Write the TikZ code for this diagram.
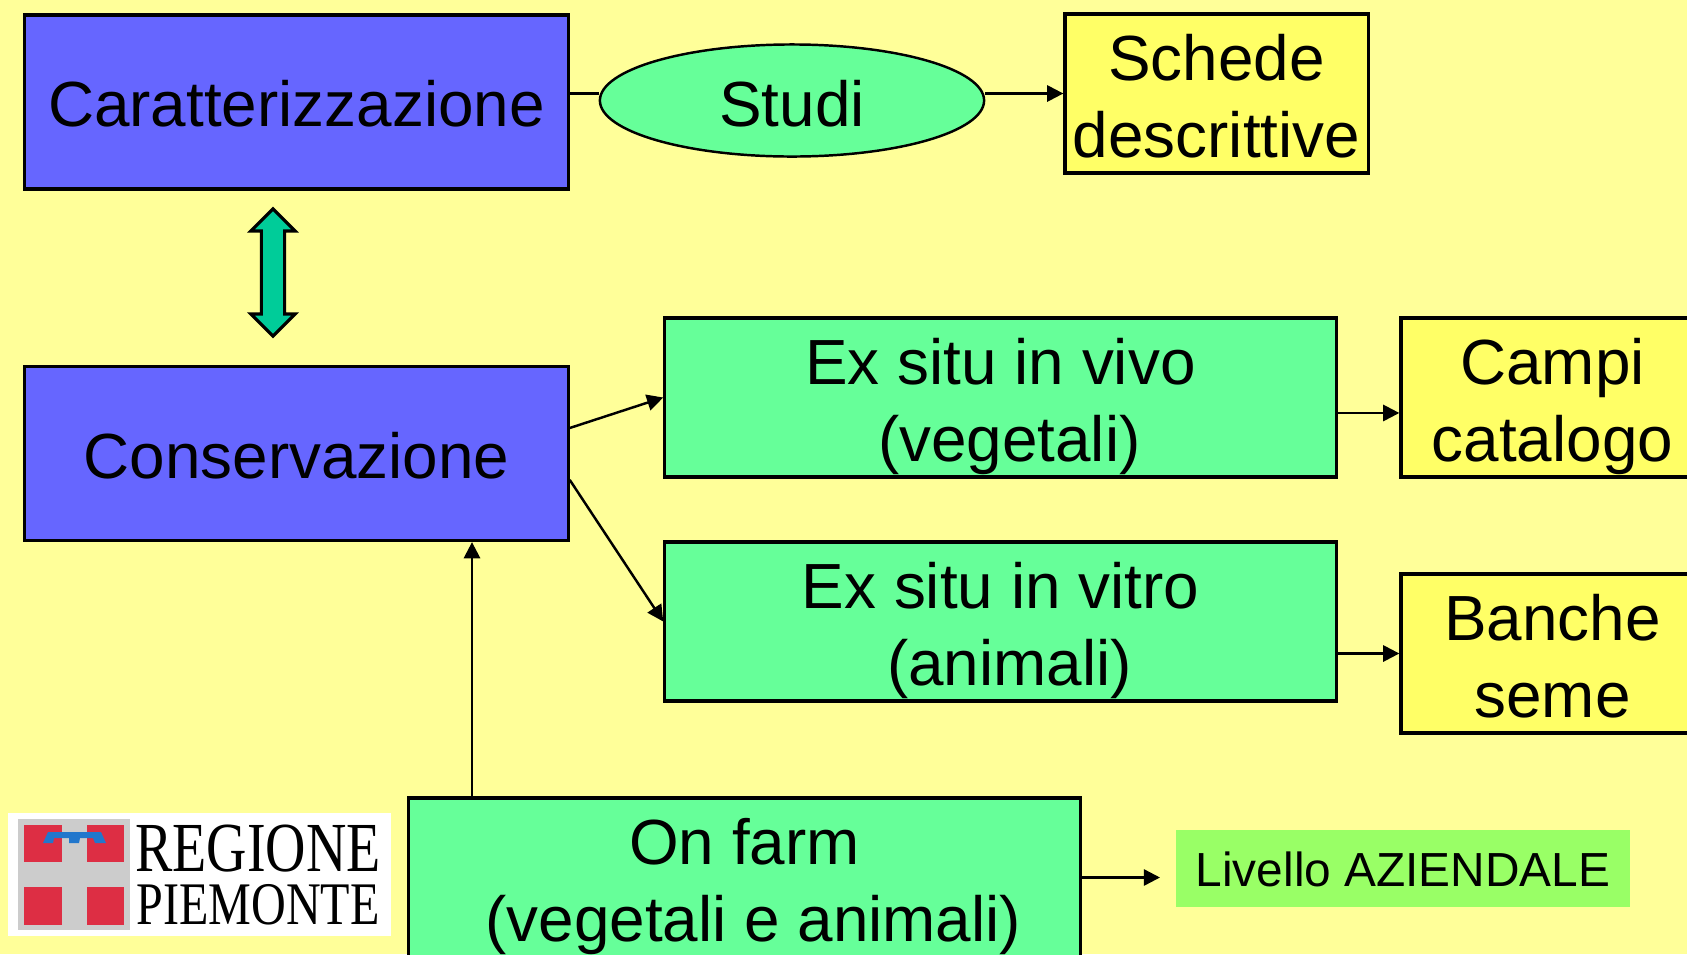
\documentclass[tikz,border=0pt]{standalone}
\usepackage{fontspec}
\setmainfont{Liberation Sans}
\newfontfamily\logofont[FakeStretch=0.795]{Liberation Serif}
\usetikzlibrary{shapes.geometric,shapes.arrows,arrows.meta}
\definecolor{sfondo}{HTML}{FFFF99}
\definecolor{blu}{HTML}{6666FF}
\definecolor{verde}{HTML}{66FF99}
\definecolor{giallo}{HTML}{FFFF66}
\definecolor{teal}{HTML}{00CC99}
\definecolor{prato}{HTML}{99FF66}
\definecolor{rosso}{HTML}{DD2E44}
\definecolor{azzurro}{HTML}{2277CC}
\begin{document}
\begin{tikzpicture}[x=0.01cm, y=-0.01cm, >={Triangle[length=4.6pt,width=4.6pt]}, line width=0.7pt]
\tikzstyle{box} = [draw, line width=0.9pt, inner sep=0, align=center, text depth=0pt, font=\fontsize{18.15pt}{21.9pt}\selectfont];
\tikzstyle{main} = [box, fill=blu, minimum width=5.43cm, minimum height=1.74cm, text height=14.2pt];
\tikzstyle{method} = [box, fill=verde, minimum width=6.71cm, minimum height=1.59cm, text height=36.3pt];
\tikzstyle{result} = [box, fill=giallo, minimum width=3.03cm, minimum height=1.59cm, text height=36.3pt];
\useasboundingbox (0, 0) rectangle (1687, 954);
\fill[sfondo] (0, 0) rectangle (1687, 954);
\node[main] (car) at (296.5, 102) {Caratterizzazione};
\node[main] (con) at (296.5, 453.5) {Conservazione};
\node[box, ellipse, fill=verde, minimum width=3.84cm, minimum height=1.12cm, line width=0.7pt, text height=15pt] (stu) at (792, 100.5) {Studi};
\node[result] (sch) at (1216.5, 93.5) {Schede\\descrittive};
\node[method] (viv) at (1000.5, 397.5) {Ex situ in vivo\\\hspace*{0.278em}(vegetali)};
\node[method] (vit) at (1000.5, 621.5) {Ex situ in vitro\\\hspace*{0.278em}(animali)};
\node[result] (cam) at (1552.5, 397.5) {Campi\\catalogo};
\node[result] (ban) at (1552.5, 653.5) {Banche\\seme};
\node[method] (far) at (744.5, 877.5) {On farm\\\hspace*{0.278em}(vegetali e animali)};
\node[fill=prato, minimum width=4.54cm, minimum height=0.77cm, inner sep=0, text depth=0pt, text height=10.3pt, font=\fontsize{13.6pt}{16pt}\selectfont] (liv) at (1403, 868.5) {Livello AZIENDALE};
\node[draw, fill=teal, double arrow, double arrow head extend=0.105cm, double arrow tip angle=90, minimum height=1.27cm, inner sep=0.1cm, rotate=90, line width=0.9pt] (link) at (273, 272.5) {};
\coordinate (up) at (472, 650);
\coordinate (end) at (1160, 877.5);
\draw (car.east |- sch.west) -- (stu.west |- sch.west);
\draw[->] (stu.east |- sch.west) -- (sch.west);
\draw[->] ([yshift=7.25pt]con.east) -- (viv.west);
\draw[->] ([yshift=-7.5pt]con.east) -- (vit.west);
\draw[->] ([yshift=-4.4pt]viv.east) -- ([yshift=-4.4pt]cam.west);
\draw[->] (vit.east |- ban.west) -- (ban.west);
\draw[->] (far.north -| up) -- (con.south -| up);
\draw[->] (far.east |- end) -- (end);
% logo
\node[fill=white, minimum width=3.83cm, minimum height=1.23cm, inner sep=0] (logo) at (199.5, 874.5) {};
\fill[black!20] (18, 819) rectangle (130, 930);
\fill[rosso] (24, 825) rectangle (62, 862);
\fill[rosso] (87, 825) rectangle (124, 862);
\fill[rosso] (24, 887) rectangle (62, 925);
\fill[rosso] (87, 887) rectangle (124, 925);
\fill[azzurro] (43, 843) -- (48, 832) -- (101, 832) -- (106, 843) -- (95, 843) -- (93, 838) -- (80, 838) -- (79, 843) -- (69, 843) -- (69, 838) -- (54, 838) -- (53, 843) -- cycle;
\node[inner sep=0, font=\logofont\fontsize{20pt}{20pt}\selectfont] (reg) at (258, 849) {REGIONE};
\node[inner sep=0, font=\logofont\fontsize{17.2pt}{17.2pt}\selectfont] (pie) at (258, 905) {PIEMONTE};
\end{tikzpicture}
\end{document}
